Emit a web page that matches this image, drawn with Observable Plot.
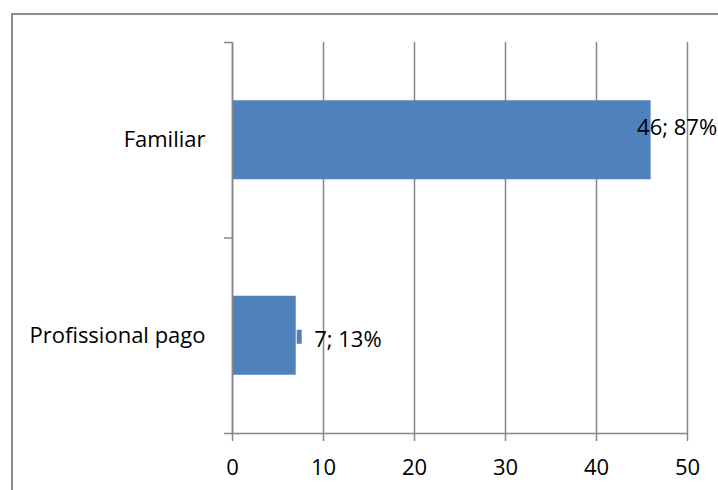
<!DOCTYPE html>
<html>
<head>
<meta charset="utf-8">
<script src="https://cdn.jsdelivr.net/npm/d3@7"></script>
<script src="https://cdn.jsdelivr.net/npm/@observablehq/plot@0.6"></script>
<style>
  html, body { margin: 0; padding: 0; background: #fff; overflow: hidden; }
  #chart { width: 718px; height: 490px; }
</style>
</head>
<body>
<div id="chart"></div>
<script>
// Who provides the care: number of people and share of the total
const categories = ["Familiar", "Profissional pago"];
const counts = [46, 7];
const shares = [87, 13];
const xTicks = [0, 10, 20, 30, 40, 50];

const rows = categories.map((cat, i) => ({
  cat, i, value: counts[i], label: `${counts[i]}; ${shares[i]}%`
}));

const barColor = "#4f81bd";
const lineColor = "#868686";
const barPad = 0.298;      // gap above and below each bar, as a fraction of its category slot
const fitLimit = 40;       // labels for longer bars are set back inside the bar end

const outside = rows.filter(d => d.value <= fitLimit);
const inside = rows.filter(d => d.value > fitLimit);

const W = 718, H = 490;

const chart = Plot.plot({
  width: W,
  height: H,
  marginTop: 42,
  marginBottom: 57,
  marginLeft: 232,
  marginRight: 31,
  style: { fontFamily: "'Open Sans', sans-serif", fontSize: "22px", color: "#000", background: "#fff" },
  x: { domain: [0, 50] },
  y: { domain: [0, categories.length], reverse: true },
  marks: [
    Plot.gridX({ ticks: xTicks, stroke: lineColor, strokeOpacity: 1, strokeWidth: 1.5 }),
    Plot.rectX(rows, {
      x1: 0, x2: "value",
      y1: d => d.i + barPad, y2: d => d.i + 1 - barPad,
      fill: barColor
    }),
    // category axis: vertical line with ticks on the category boundaries
    Plot.ruleX([0], { stroke: lineColor, strokeWidth: 1.5 }),
    Plot.axisY({
      ticks: d3.range(categories.length + 1),
      tickSize: 8, tickFormat: () => "", label: null,
      stroke: lineColor, strokeWidth: 1.5
    }),
    Plot.text(rows, {
      x: 0, y: d => d.i + 0.5, text: "cat",
      textAnchor: "end", dx: -27, fontSize: 22, fill: "#000"
    }),
    // value axis
    Plot.ruleY([categories.length], { stroke: lineColor, strokeWidth: 1.5 }),
    Plot.axisX({
      ticks: xTicks, tickSize: 8, tickPadding: 18, label: null,
      stroke: lineColor, strokeWidth: 1.5, fontSize: 22, fill: "#000"
    }),
    // data labels with their small colour key
    Plot.ruleX(outside, {
      x: "value", y1: d => d.i + 0.464, y2: d => d.i + 0.536,
      dx: 3, dy: 1.5, stroke: barColor, strokeWidth: 5
    }),
    Plot.text(outside, {
      x: "value", y: d => d.i + 0.5, text: "label",
      textAnchor: "start", dx: 18, dy: 4, fontSize: 22, fill: "#000"
    }),
    Plot.text(inside, {
      x: "value", y: d => d.i + 0.5, text: "label",
      textAnchor: "start", dx: -14, dy: -12, fontSize: 22, fill: "#000"
    })
  ]
});

// chart-area outline: only its top and left sides fall inside the page
d3.select(chart).insert("path", ":first-child")
  .attr("d", `M12,${H}V14H${W}`)
  .attr("fill", "none")
  .attr("stroke", "#8c8c8c")
  .attr("stroke-width", 2);

document.getElementById("chart").appendChild(chart);
</script>
</body>
</html>
